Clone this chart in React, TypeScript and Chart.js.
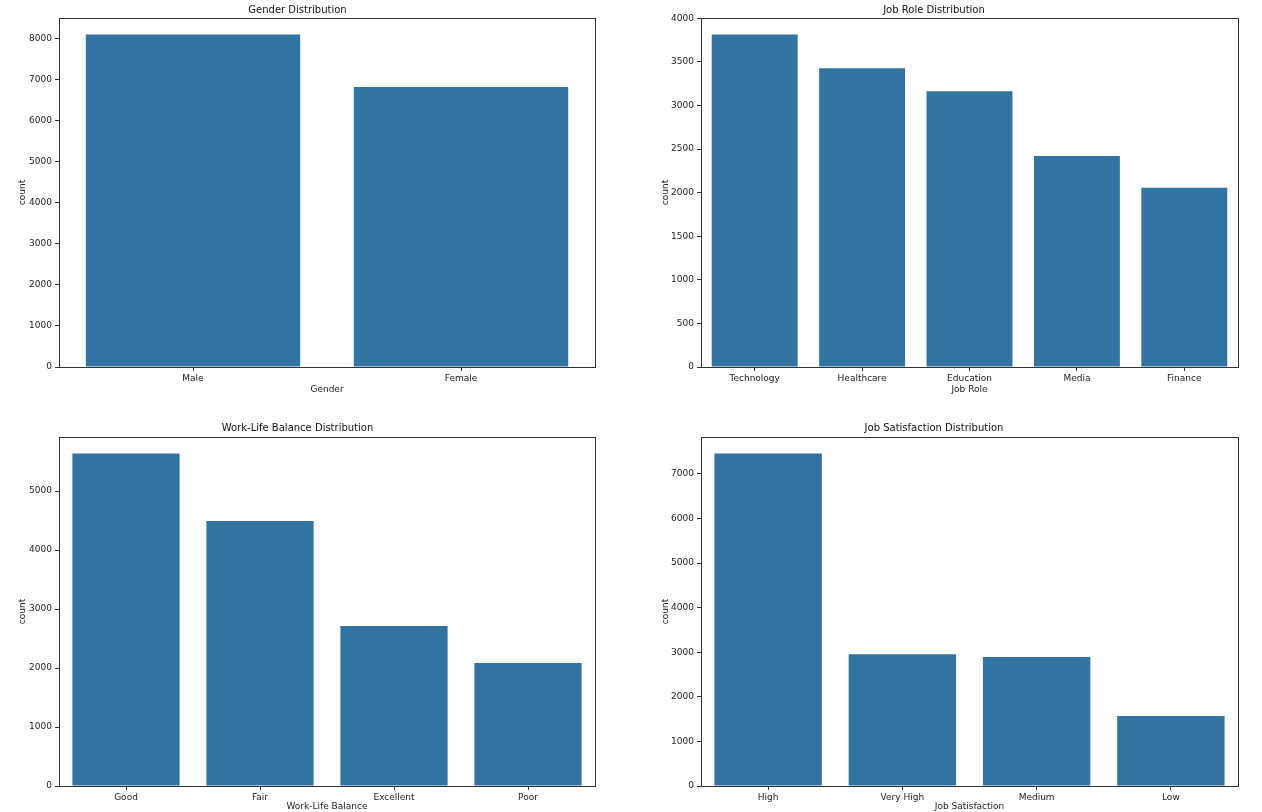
import { useEffect, useRef } from "react";
import { Chart, registerables } from "chart.js";

Chart.register(...registerables);

// counts (seaborn countplots)
const genderLabels = ["Male", "Female"];
const genderCounts = [8090, 6814];
const genderTicks = [0, 1000, 2000, 3000, 4000, 5000, 6000, 7000, 8000];

const roleLabels = ["Technology", "Healthcare", "Education", "Media", "Finance"];
const roleCounts = [3813, 3427, 3163, 2420, 2055];
const roleTicks = [0, 500, 1000, 1500, 2000, 2500, 3000, 3500, 4000];

const balanceLabels = ["Good", "Fair", "Excellent", "Poor"];
const balanceCounts = [5634, 4492, 2712, 2085];
const balanceTicks = [0, 1000, 2000, 3000, 4000, 5000];

const satisfactionLabels = ["High", "Very High", "Medium", "Low"];
const satisfactionCounts = [7457, 2955, 2894, 1570];
const satisfactionTicks = [0, 1000, 2000, 3000, 4000, 5000, 6000, 7000];

const BAR = "#3274a1";
const INK = "#222";
const FONT = "'DejaVu Sans', sans-serif";

// matplotlib draws all four spines
const framePlugin = {
  id: "frame",
  afterDraw: (c: Chart) => {
    const { left, top, right, bottom } = c.chartArea;
    const ctx = c.ctx;
    ctx.save();
    ctx.strokeStyle = "#333";
    ctx.lineWidth = 1;
    ctx.strokeRect(Math.round(left) + 0.5, Math.round(top) + 0.5, Math.round(right - left), Math.round(bottom - top));
    ctx.restore();
  },
};

type PanelProps = {
  title: string;
  xTitle: string;
  labels: string[];
  values: number[];
  ticks: number[];
  left: number;
  top: number;
  width: number;
  height: number;
  yWidth: number;
  xHeight: number;
  padRight: number;
  titlePad: { top: number; bottom: number };
  xTitlePad: number;
  yTitlePad: number;
};

function Panel(p: PanelProps) {
  const ref = useRef<HTMLCanvasElement | null>(null);

  useEffect(() => {
    if (!ref.current) return;
    // matplotlib's default 5% headroom
    const yMax = Math.max(...p.values) * 1.05;

    const chart = new Chart(ref.current, {
      type: "bar",
      data: {
        labels: p.labels,
        datasets: [
          {
            data: p.values,
            backgroundColor: BAR,
            borderWidth: 0,
            barPercentage: 0.8,
            categoryPercentage: 1,
          },
        ],
      },
      options: {
        responsive: true,
        maintainAspectRatio: false,
        animation: false,
        layout: { padding: { left: 0, right: p.padRight, top: 0, bottom: 0 } },
        plugins: {
          legend: { display: false },
          tooltip: { enabled: false },
          title: {
            display: true,
            text: p.title,
            color: "#111",
            font: { family: FONT, size: 10, weight: "normal", lineHeight: 1.2 },
            padding: p.titlePad,
          },
        },
        scales: {
          x: {
            offset: true,
            grid: {
              display: true,
              offset: false,
              drawOnChartArea: false,
              drawTicks: true,
              tickLength: 4,
              color: "#333",
            },
            border: { display: false },
            ticks: { color: INK, font: { family: FONT, size: 9 }, padding: 2, maxRotation: 0 },
            title: {
              display: true,
              text: p.xTitle,
              color: INK,
              font: { family: FONT, size: 9, lineHeight: 1.2 },
              padding: { top: 0, bottom: p.xTitlePad },
            },
            afterFit: (s: any) => {
              s.height = p.xHeight;
            },
          },
          y: {
            min: 0,
            max: yMax,
            grid: {
              display: true,
              drawOnChartArea: false,
              drawTicks: true,
              tickLength: 4,
              color: "#333",
            },
            border: { display: false },
            afterBuildTicks: (s: any) => {
              s.ticks = p.ticks.map((v) => ({ value: v }));
            },
            ticks: {
              color: INK,
              font: { family: FONT, size: 9 },
              padding: 3,
              callback: (v: any) => String(v),
            },
            title: {
              display: true,
              text: "count",
              color: INK,
              font: { family: FONT, size: 9, lineHeight: 1.2 },
              padding: { top: p.yTitlePad, bottom: 0 },
            },
            afterFit: (s: any) => {
              s.width = p.yWidth;
            },
          },
        },
      },
      plugins: [framePlugin],
    });

    return () => chart.destroy();
    // eslint-disable-next-line react-hooks/exhaustive-deps
  }, []);

  return (
    <div style={{ position: "absolute", left: p.left, top: p.top, width: p.width, height: p.height }}>
      <canvas ref={ref} />
    </div>
  );
}

export default function App() {
  return (
    <div
      style={{
        position: "fixed",
        left: 0,
        top: 0,
        width: 1262,
        height: 812,
        background: "#fff",
        overflow: "hidden",
      }}
    >
      <Panel
        title="Gender Distribution"
        xTitle="Gender"
        labels={genderLabels}
        values={genderCounts}
        ticks={genderTicks}
        left={0}
        top={0}
        width={620}
        height={406}
        yWidth={59}
        xHeight={39}
        padRight={25}
        titlePad={{ top: 4, bottom: 2 }}
        xTitlePad={11}
        yTitlePad={17}
      />
      <Panel
        title="Job Role Distribution"
        xTitle="Job Role"
        labels={roleLabels}
        values={roleCounts}
        ticks={roleTicks}
        left={630}
        top={0}
        width={632}
        height={406}
        yWidth={71}
        xHeight={39}
        padRight={24}
        titlePad={{ top: 4, bottom: 2 }}
        xTitlePad={11}
        yTitlePad={30}
      />
      <Panel
        title="Work-Life Balance Distribution"
        xTitle="Work-Life Balance"
        labels={balanceLabels}
        values={balanceCounts}
        ticks={balanceTicks}
        left={0}
        top={406}
        width={620}
        height={406}
        yWidth={59}
        xHeight={26}
        padRight={25}
        titlePad={{ top: 16, bottom: 3 }}
        xTitlePad={0}
        yTitlePad={17}
      />
      <Panel
        title="Job Satisfaction Distribution"
        xTitle="Job Satisfaction"
        labels={satisfactionLabels}
        values={satisfactionCounts}
        ticks={satisfactionTicks}
        left={630}
        top={406}
        width={632}
        height={406}
        yWidth={71}
        xHeight={26}
        padRight={24}
        titlePad={{ top: 16, bottom: 3 }}
        xTitlePad={0}
        yTitlePad={30}
      />
    </div>
  );
}
